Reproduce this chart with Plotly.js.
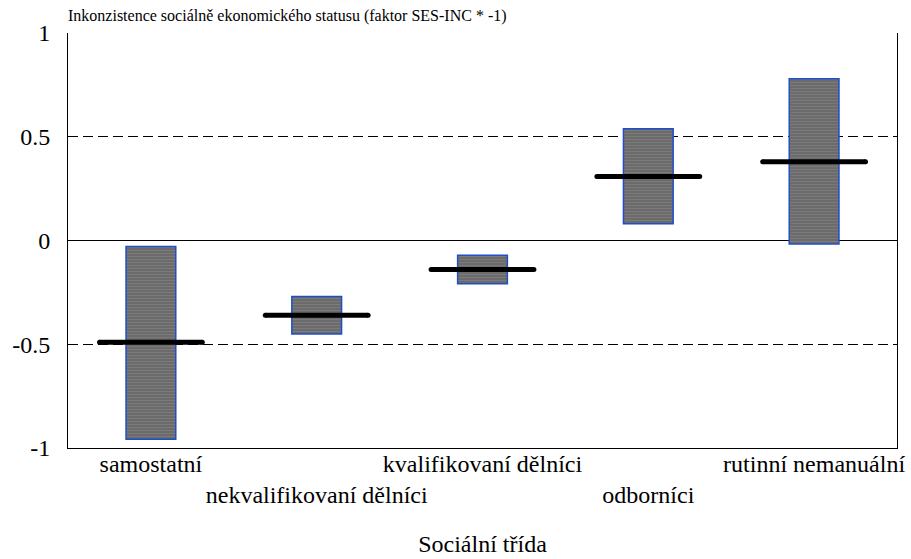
<!DOCTYPE html>
<html><head><meta charset="utf-8">
<script src="https://cdn.plot.ly/plotly-3.0.1.min.js"></script>
<style>html,body{margin:0;padding:0;background:#fff}#chart{width:911px;height:559px}</style>
</head><body><div id="chart"></div>
<script>
const categories = ["samostatní","nekvalifikovaní dělníci","kvalifikovaní dělníci","odborníci","rutinní nemanuální"];
const boxLow  = [-0.958, -0.450, -0.209, 0.081, -0.017];
const boxHigh = [-0.029, -0.270, -0.071, 0.539, 0.779];
const medians = [-0.490, -0.360, -0.140, 0.309, 0.380];
const yTicks = [-1, -0.5, 0, 0.5, 1];
const yTickText = ["-1", "-0.5", "0", "0.5", "1"];

const xs = categories.map((c,i)=>i);
const FONT = "'Liberation Serif', 'Times New Roman', Times, serif";

const traces = [{
  type: 'bar',
  x: xs,
  base: boxLow,
  y: boxHigh.map((h,i)=>h-boxLow[i]),
  width: 0.3,
  marker: {
    color: '#7a7a7a',
    line: {color: '#1f4fc8', width: 1.5},
    pattern: {shape: '-', bgcolor: '#666666', fgcolor: '#909090', size: 3, solidity: 0.5, fillmode: 'overlay'}
  },
  hoverinfo: 'skip',
  showlegend: false
}];
const half = 0.31;
medians.forEach((m,i)=>{
  traces.push({
    type: 'scatter', mode: 'lines+markers',
    x: [xs[i]-half, xs[i]+half], y: [m, m],
    line: {color: '#000', width: 5},
    marker: {color: '#000', size: 5, symbol: 'circle'},
    hoverinfo: 'skip', showlegend: false
  });
});

const tickText = categories.map((c,i)=> i%2===0 ? c : '&nbsp;<br>'+c);

const layout = {
  width: 911, height: 559,
  margin: {l: 68, r: 14, t: 33, b: 111},
  paper_bgcolor: '#fff', plot_bgcolor: '#fff',
  font: {family: FONT, size: 24, color: '#000'},
  title: {text: 'Inkonzistence sociálně ekonomického statusu (faktor SES-INC * -1)',
          font: {family: FONT, size: 16, color: '#000'},
          xref: 'paper', x: 0, xanchor: 'left', yref: 'container', y: 1-15/559, yanchor: 'middle'},
  xaxis: {
    range: [-0.5, 4.5], tickvals: xs, ticktext: tickText, tickangle: 0,
    showline: true, linecolor: '#000', linewidth: 1, mirror: false,
    showgrid: false, zeroline: false, ticks: '', fixedrange: true, automargin: false,
    ticklabelstandoff: -6,
    tickfont: {family: FONT, size: 24},
    title: {text: 'Sociální třída', font: {family: FONT, size: 24}, standoff: 28}
  },
  yaxis: {
    range: [-1, 1], tickvals: yTicks, ticktext: yTickText, automargin: false,
    showline: true, linecolor: '#000', linewidth: 1, mirror: true,
    showgrid: true, gridcolor: '#000', gridwidth: 1, griddash: '10px,5px',
    zeroline: true, zerolinecolor: '#000', zerolinewidth: 1,
    ticks: 'inside', ticklen: 8, tickcolor: '#000',
    ticklabelstandoff: 12,
    tickfont: {family: FONT, size: 24}
  },
  bargap: 0
};
Plotly.newPlot('chart', traces, layout, {staticPlot: true, displayModeBar: false});
</script></body></html>
